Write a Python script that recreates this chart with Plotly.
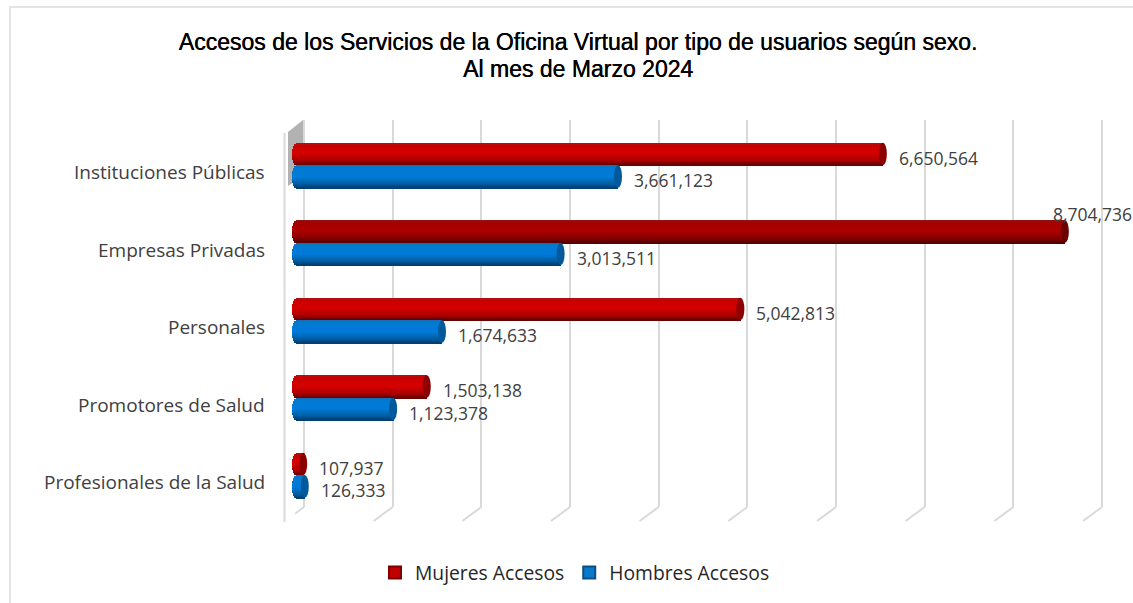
import math
import plotly.graph_objects as go

categories = ["Instituciones Públicas", "Empresas Privadas", "Personales", "Promotores de Salud", "Profesionales de la Salud"]
mujeres = [6650564, 8704736, 5042813, 1503138, 107937]
hombres = [3661123, 3013511, 1674633, 1123378, 126333]
grid_ticks = [0, 1e6, 2e6, 3e6, 4e6, 5e6, 6e6, 7e6, 8e6, 9e6]
title_lines = ["Accesos de los Servicios de la Oficina Virtual por tipo de usuarios según sexo.", "Al mes de Marzo 2024"]

W, H = 1133, 603
X0, PX_PER = 293.6, 88.6 / 1e6
Y_TOP, Y_BOT = 126.55, 514.05   # plot area
BAR_PX = 22.5
UNIT_PX = (Y_BOT - Y_TOP) / 5
N = 22
GRID_PAD = 1e5
BAR_PAD_PX = 10


def px2x(p):
    return p / PX_PER


def px(v):
    return v / W


def py(v):
    return 1 - v / H


def mix(a, b, t):
    return tuple(a[i] + (b[i] - a[i]) * t for i in range(3))


def rgb(c):
    return "rgb(%d,%d,%d)" % tuple(round(v) for v in c)


def ramp(t, stops):
    for (t0, c0), (t1, c1) in zip(stops, stops[1:]):
        if t <= t1:
            return mix(c0, c1, (t - t0) / (t1 - t0))
    return stops[-1][1]


RED = [(0, (170, 20, 20)), (.12, (200, 0, 0)), (.45, (214, 0, 0)), (.8, (170, 0, 0)), (1, (95, 0, 0))]
RED_HI = [(0, (140, 20, 20)), (.12, (165, 0, 0)), (.45, (172, 0, 0)), (.8, (130, 0, 0)), (1, (80, 0, 0))]
BLUE = [(0, (20, 110, 180)), (.12, (0, 122, 210)), (.5, (0, 122, 215)), (.8, (0, 95, 165)), (1, (0, 60, 110))]

fig = go.Figure()

# invisible trace keeps the wall axes alive; the wall subplot sits underneath the bars
fig.add_trace(go.Scatter(x=grid_ticks, y=[0] * len(grid_ticks), xaxis="x", yaxis="y", mode="none",
                         showlegend=False, hoverinfo="skip"))


def add_series(values, start, stops, hi=None):
    h = BAR_PX / UNIT_PX / N
    for k in range(N):
        t = (k + .5) / N
        s = 2 * t - 1
        base_px = 3.0 - 5 * math.sqrt(max(0, 1 - s * s))
        base = px2x(base_px)
        colors = [rgb(ramp(t, RED_HI if hi == i else stops)) for i in range(5)]
        fig.add_trace(go.Bar(
            y=categories, x=[v - base for v in values], base=base, orientation="h", xaxis="x2", yaxis="y2",
            width=h, offset=start + k * h, marker=dict(color=colors, line=dict(width=0)),
            showlegend=False, hoverinfo="skip"))


add_series(mujeres, -BAR_PX / UNIT_PX, RED, hi=1)
add_series(hombres, 0, BLUE)

fig.add_trace(go.Scatter(x=[None], y=[None], xaxis="x2", yaxis="y2", name="Mujeres Accesos", mode="markers",
                         marker=dict(symbol="square", size=14, color="#c00000", line=dict(color="#7a0000", width=1))))
fig.add_trace(go.Scatter(x=[None], y=[None], xaxis="x2", yaxis="y2", name="Hombres Accesos", mode="markers",
                         marker=dict(symbol="square", size=14, color="#0a78cc", line=dict(color="#0a4f88", width=1))))

shapes = []
GRID = "#d9d9d9"
# chart border
shapes.append(dict(type="rect", xref="paper", yref="paper", x0=px(10), x1=px(1180), y0=py(7), y1=py(640),
                   line=dict(color="#dcdcdc", width=1.5), layer="below"))
# side wall
shapes.append(dict(type="path", xref="paper", yref="paper", layer="below", fillcolor="#b2b2b2", line=dict(width=0),
                   path=f"M {px(303)} {py(120)} L {px(288)} {py(132)} L {px(288)} {py(186)} L {px(303)} {py(176)} Z"))
# front edge and floor
shapes.append(dict(type="line", xref="paper", yref="paper", x0=px(284.5), x1=px(284.5), y0=py(133), y1=py(522),
                   line=dict(color=GRID, width=2), layer="below"))
for t in grid_ticks:
    shapes.append(dict(type="line", xref="x", yref="paper", xsizemode="pixel", xanchor=t, x0=0, x1=-19,
                       y0=py(507), y1=py(521), line=dict(color=GRID, width=2), layer="below"))
# cylinder caps
half = BAR_PX / UNIT_PX / 2
for i in range(5):
    for values, off, col in ((mujeres, -half, "#6c0000" if i == 1 else "#8c0000"), (hombres, half, "#00599b")):
        shapes.append(dict(type="circle", xref="x2", yref="y2", xsizemode="pixel", ysizemode="pixel",
                           xanchor=values[i], yanchor=i + off, x0=-4, x1=4, y0=-BAR_PX / 2, y1=BAR_PX / 2,
                           fillcolor=col, line=dict(width=0), layer="above"))

LABEL = dict(family="Open Sans, sans-serif", size=17.5, color="#404040")
CAT_LABEL = dict(family="Open Sans, sans-serif", size=19, color="#404040")
annotations = []
for i in range(5):
    for values, off in ((mujeres, -half), (hombres, half)):
        xs, ys = 14, -3.5
        if values is mujeres and i == 1:
            xs, ys = -14, 18
        annotations.append(dict(x=values[i], y=i + off, xref="x2", yref="y2", text=f"{values[i]:,}", showarrow=False,
                                xanchor="left", yanchor="middle", xshift=xs, yshift=ys, font=LABEL))
    annotations.append(dict(x=0, y=i, xref="paper", yref="y2", xanchor="right", yanchor="middle", text=categories[i],
                            showarrow=False, xshift=267, yshift=-7, font=CAT_LABEL))

TITLE_FONT = dict(family="Liberation Sans, Arial, sans-serif", size=23, color="black", shadow="0.4px 0 0 #000")
annotations.append(dict(x=578 / W, y=py(69), xref="paper", yref="paper", text=title_lines[1], showarrow=False,
                        xanchor="center", yanchor="middle", font=TITLE_FONT))

fig.update_layout(
    width=W, height=H, margin=dict(l=0, r=0, t=0, b=0), autosize=False,
    paper_bgcolor="white", plot_bgcolor="rgba(0,0,0,0)", barmode="overlay", bargap=0,
    title=dict(text=title_lines[0], x=578 / W, xanchor="center", y=py(42), yanchor="middle", font=TITLE_FONT),
    xaxis=dict(domain=[px(304 - GRID_PAD * 88.67e-6), px(1102 + GRID_PAD * 88.67e-6)], range=[-GRID_PAD, 9e6 + GRID_PAD],
               tickvals=grid_ticks, showticklabels=False, ticks="",
               showgrid=True, gridcolor=GRID, gridwidth=2, zeroline=False, anchor="y", showline=False),
    yaxis=dict(domain=[py(507), py(120)], range=[0, 1], visible=False, showgrid=False, anchor="x"),
    xaxis2=dict(domain=[px(X0 - BAR_PAD_PX), 1], range=[-px2x(BAR_PAD_PX), (W - X0) / PX_PER], visible=False,
                showgrid=False, anchor="y2"),
    yaxis2=dict(domain=[py(Y_BOT), py(Y_TOP)], range=[4.5, -0.5], type="category", categoryorder="array",
                categoryarray=categories, showticklabels=False, showgrid=False, zeroline=False, showline=False,
                ticks="", anchor="x2"),
    legend=dict(orientation="h", x=575 / W, xanchor="center", y=py(573), yanchor="middle",
                font=dict(family="Open Sans, sans-serif", size=19.3, color="#262626"), itemsizing="constant",
                bgcolor="rgba(0,0,0,0)"),
    shapes=shapes, annotations=annotations, showlegend=True,
)

fig.write_html("out.html", config=dict(displayModeBar=False),
               post_script="document.body.style.margin='0';document.documentElement.style.overflow='hidden';")
